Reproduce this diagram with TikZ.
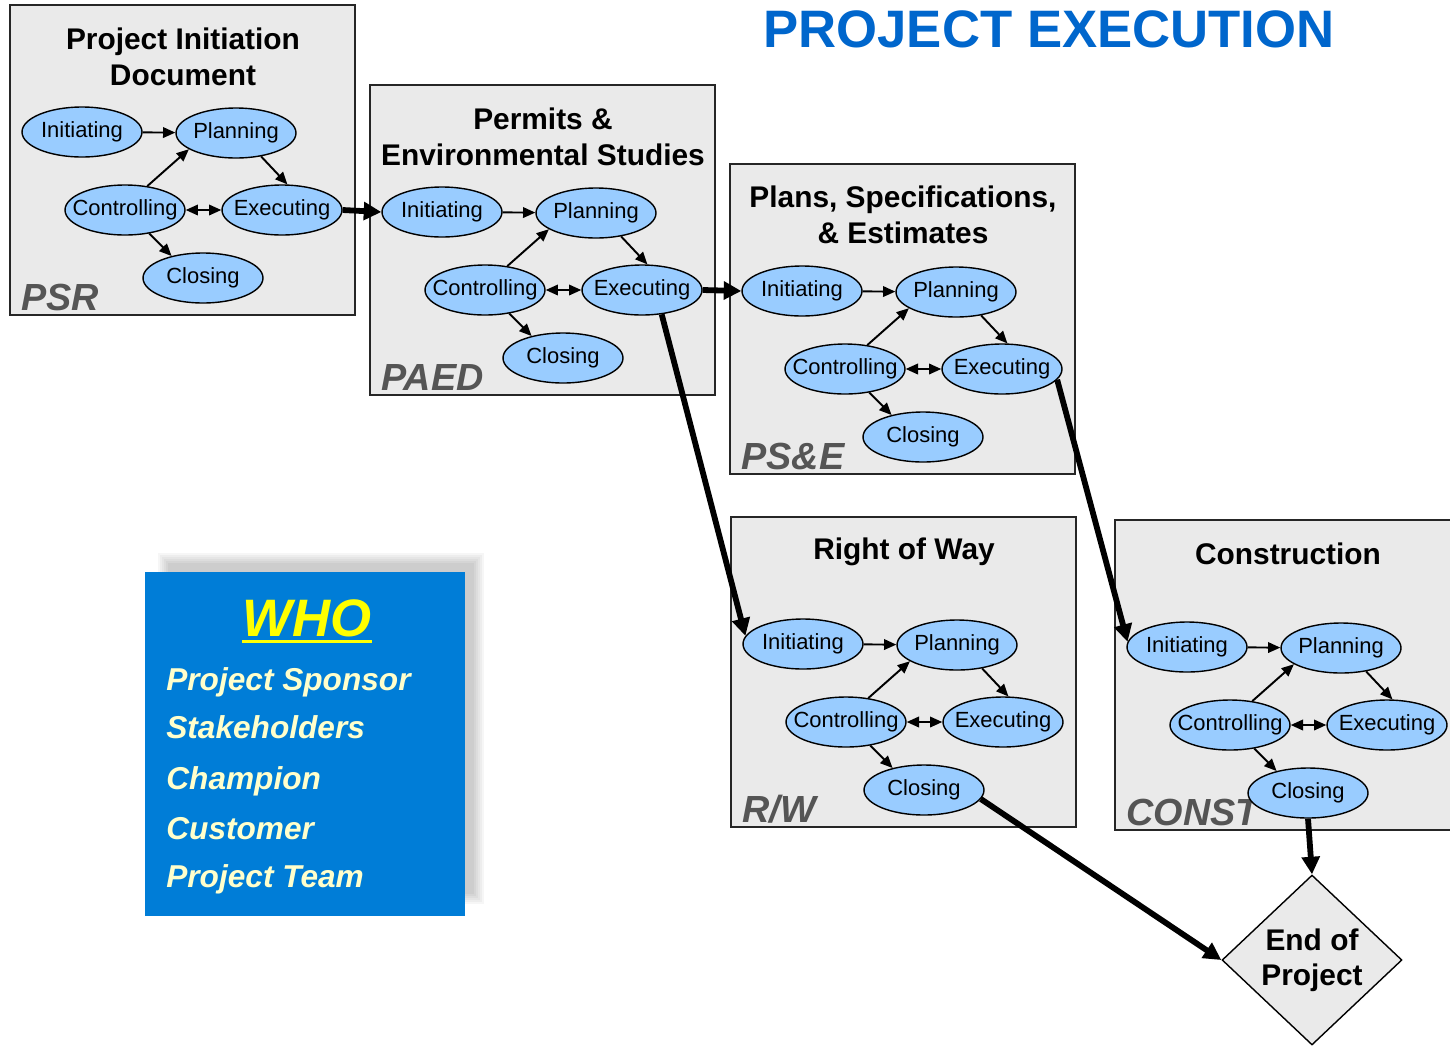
\documentclass[tikz,border=0pt]{standalone}
\usepackage{fontspec}
\setmainfont{Liberation Sans}
\usetikzlibrary{shapes.geometric,arrows.meta}
\definecolor{boxgray}{RGB}{234,234,234}
\definecolor{phaseblue}{RGB}{153,204,255}
\definecolor{whoblue}{RGB}{0,125,215}
\definecolor{titleblue}{RGB}{0,102,204}
\definecolor{labelgray}{RGB}{85,85,85}
\definecolor{whoyellow}{RGB}{255,255,0}
\definecolor{listyellow}{RGB}{255,255,204}
\newcommand\ctext[1]{\makebox[0pt][c]{#1}}
\newcommand\drawstage[6]{%
\begin{scope}[shift={(#2,#3)}]
\node[stagebox] (#1box) at (182.5,160) {};
\node[stagetitle] (#1title) at (183,#5) {#4};
\node[stagelabel] (#1lab) at (21,310) {#6};
\node[phase] (#1ini) at (82,132) {\ctext{Initiating}};
\node[phase] (#1plan) at (236,133) {\ctext{Planning}};
\node[phase] (#1ctrl) at (125,210) {\ctext{Controlling}};
\node[phase] (#1exec) at (282,210) {\ctext{Executing}};
\node[phase] (#1close) at (203,278) {\ctext{Closing}};
\draw[thinarrow] (#1ini) -- (#1plan);
\draw[thinarrow] (#1plan.-43) -- (#1exec.78);
\draw[thinarrow] (#1ctrl.47) -- (#1plan.199);
\draw[thinarrow, {Triangle[length=7pt,width=6pt]}-{Triangle[length=7pt,width=6pt]}] (#1ctrl) -- (#1exec);
\draw[thinarrow] (#1ctrl.-44) -- (#1close.145);
\end{scope}}
\begin{document}
\begin{tikzpicture}[x=0.02cm,y=-0.02cm,
  stagebox/.style={draw=black!85, line width=1.1pt, fill=boxgray, minimum width=6.9cm, minimum height=6.2cm, inner sep=0pt},
  stagetitle/.style={align=center, inner sep=0pt, font=\fontsize{17}{20.4}\selectfont\bfseries},
  stagelabel/.style={anchor=base west, inner sep=0pt, text=labelgray, font=\fontsize{21.5}{25}\selectfont\bfseries\itshape},
  phase/.style={ellipse, draw=black, line width=0.8pt, fill=phaseblue, minimum width=2.4cm, minimum height=1cm, inner sep=0pt, font=\fontsize{12.5}{15}\selectfont},
  thinarrow/.style={line width=1.1pt, -{Triangle[length=7pt,width=6pt]}},
  thickarrow/.style={line width=3.3pt, -{Triangle[length=10pt,width=10pt]}},
  endbox/.style={diamond, draw=black, line width=0.8pt, fill=boxgray, minimum width=3.6cm, minimum height=3.4cm, inner sep=0pt, align=center, font=\fontsize{17}{20}\selectfont\bfseries},
  listitem/.style={anchor=base west, inner sep=0pt, text=listyellow, font=\fontsize{18}{22}\selectfont\bfseries\itshape}]
\path[use as bounding box] (0,0) rectangle (1450,1046);
\clip (0,0) rectangle (1450,1046);

\node[anchor=base, inner sep=0pt, text=titleblue, font=\fontsize{30}{36}\selectfont\bfseries] (maintitle) at (1049,47) {PROJECT EXECUTION};

\drawstage{a}{0}{0}{Project Initiation\\Document}{57}{PSR}
\drawstage{b}{360}{80}{Permits \&\\Environmental Studies}{57}{PAED}
\drawstage{c}{720}{159}{Plans, Specifications,\\\& Estimates}{56}{PS\&E}
\drawstage{d}{721}{512}{Right of Way}{40}{R/W}
\drawstage{e}{1105}{515}{Construction}{39}{CONST}

\node[endbox] (end) at (1312,960) {End of\\Project};

\draw[thickarrow] (aexec.east) -- (bini.west);
\draw[thickarrow] (bexec.east) -- (cini.west);
\draw[thickarrow] (bexec.-51) -- (dini.172);
\draw[thickarrow] (cexec.-11) -- (eini.175);
\draw[thickarrow] (dclose.-9) -- (end.west);
\draw[thickarrow] (eclose.south) -- (end.north);

% WHO panel
\foreach \d in {0,2,...,10}
  \fill[black, opacity=0.035] (158+\d,553+\d) rectangle (484-\d,904-\d);
\node[fill=whoblue, minimum width=6.4cm, minimum height=6.88cm, inner sep=0pt] (whobox) at (305,744) {};
\node[anchor=base, inner sep=0pt, text=whoyellow, font=\fontsize{30}{36}\selectfont\bfseries\itshape] (who) at (307,636) {WHO};
\draw[whoyellow, line width=1.7pt] ([yshift=-3pt]who.base west) -- ([yshift=-3pt]who.base east);
\node[listitem] (l1) at (166,690) {Project Sponsor};
\node[listitem] (l2) at (166,738) {Stakeholders};
\node[listitem] (l3) at (166,789) {Champion};
\node[listitem] (l4) at (166,839) {Customer};
\node[listitem] (l5) at (166,887) {Project Team};
\end{tikzpicture}
\end{document}
